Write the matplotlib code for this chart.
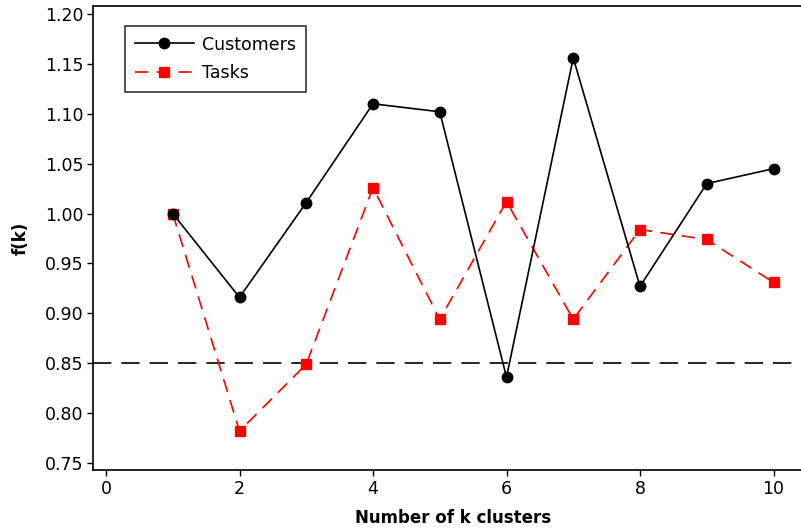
import matplotlib
matplotlib.use("Agg")
import matplotlib.pyplot as plt
from matplotlib.ticker import FormatStrFormatter

k = [1, 2, 3, 4, 5, 6, 7, 8, 9, 10]
customers = [1.000, 0.916, 1.011, 1.110, 1.102, 0.836, 1.156, 0.927, 1.030, 1.045]
tasks = [1.000, 0.782, 0.849, 1.026, 0.894, 1.012, 0.894, 0.984, 0.974, 0.931]
threshold = 0.85
xticks = [0, 2, 4, 6, 8, 10]
yticks = [0.75, 0.80, 0.85, 0.90, 0.95, 1.00, 1.05, 1.10, 1.15, 1.20]

plt.rcParams['font.family'] = ['DejaVu Sans']
fig = plt.figure(figsize=(8.01, 5.29), dpi=100)
W = 720
ax = fig.add_axes([93/801, 1-470/529, W/801, (470-6)/529])

ax.axhline(threshold, color='black', lw=1.2, ls=(0, (11, 6)), zorder=1)
ax.plot(k, customers, color='black', lw=1.2, marker='o', ms=7.5,
        label='Customers', zorder=3)
ax.plot(k, tasks, color='red', lw=1.2, ls=(0, (8, 5)), marker='s', ms=7,
        label='Tasks', zorder=2)

# x scale: 66.75 px per unit, x=0 at pixel 106
ax.set_xlim(-13/66.75, (W - 13)/66.75)
ax.set_ylim(0.743, 1.208)
ax.set_xticks(xticks)
ax.set_yticks(yticks)
ax.yaxis.set_major_formatter(FormatStrFormatter('%.2f'))
ax.tick_params(direction='out', length=4, width=1, labelsize=12.5, pad=3)
ax.spines['right'].set_visible(False)
for s in ['left', 'top', 'bottom']:
    ax.spines[s].set_linewidth(1.2)

ax.set_xlabel('Number of k clusters', fontsize=12, fontweight='bold', labelpad=8)
ax.set_ylabel('f(k)', fontsize=12, fontweight='bold', labelpad=11)

leg = ax.legend(loc='upper left', bbox_to_anchor=(32/W, 1-20/464),
                fontsize=12.5, frameon=True, fancybox=False, edgecolor='black',
                handlelength=3.4, borderpad=0.55, labelspacing=0.6,
                handletextpad=0.5, borderaxespad=0)
leg.get_frame().set_linewidth(1.2)

fig.savefig('out.png', dpi=100)
